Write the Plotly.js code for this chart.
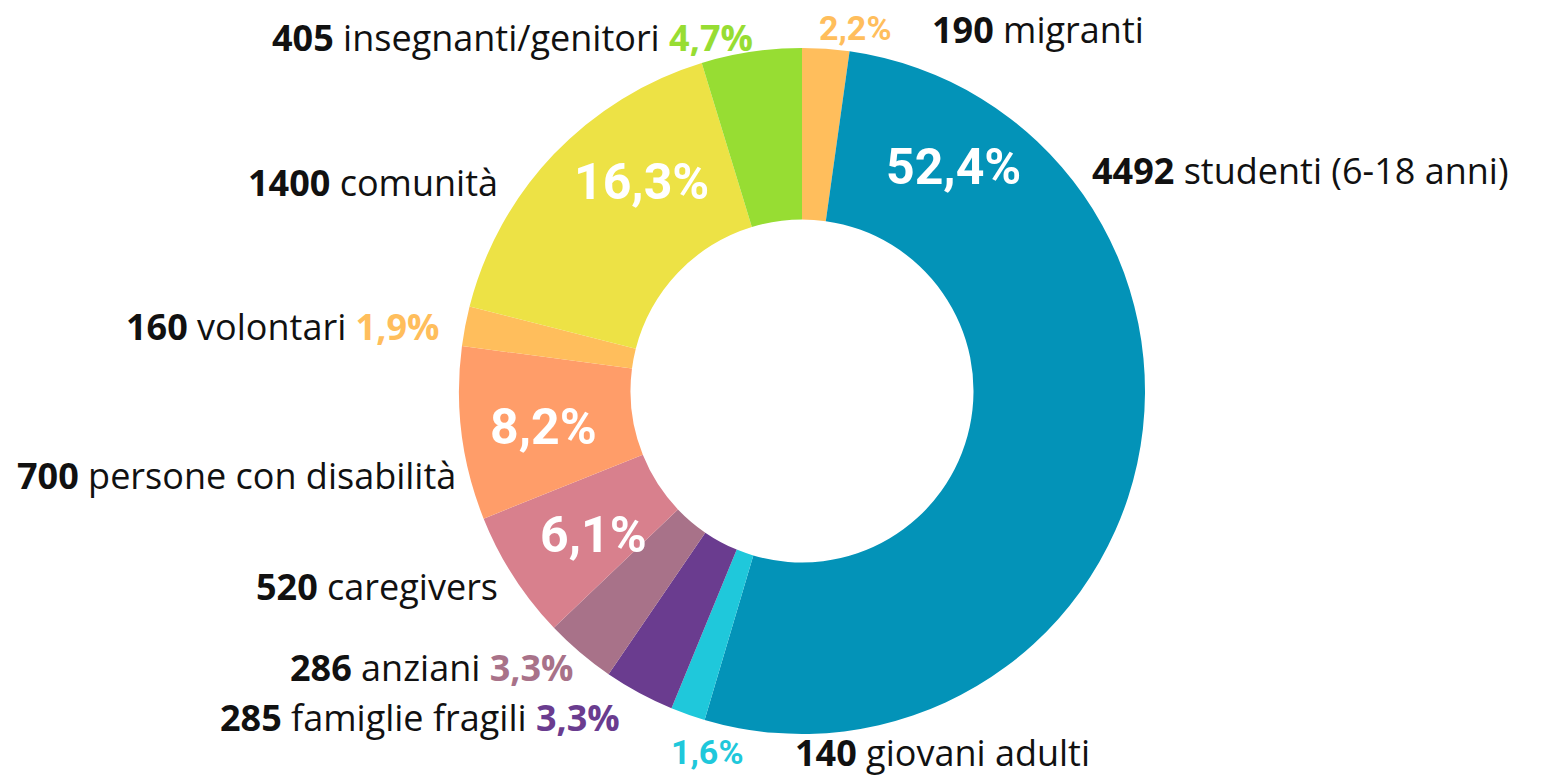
<!DOCTYPE html>
<html>
<head>
<meta charset="utf-8">
<script src="https://cdn.plot.ly/plotly-3.0.1.min.js"></script>
<style>html,body{margin:0;padding:0;background:#fff;}#chart{width:1551px;height:776px;}</style>
</head>
<body>
<div id="chart"></div>
<script>
// Data (clockwise from 12 o'clock)
const categories = ["migranti", "studenti (6-18 anni)", "giovani adulti", "famiglie fragili", "anziani", "caregivers", "persone con disabilità", "volontari", "comunità", "insegnanti/genitori"];
const values = [190, 4492, 140, 285, 286, 520, 700, 160, 1400, 405];
const colors = ["#FFBE5C", "#0393B8", "#1FC8DB", "#6A3C8F", "#A87289", "#D8808D", "#FF9D69", "#FFBE5C", "#EDE245", "#97DD33"];

const W = 1551, H = 776;
const total = values.reduce((a, b) => a + b, 0);
const pct = values.map(v => (v / total * 100).toFixed(1).replace('.', ',') + '%');

const FONT = '"Open Sans", Roboto, sans-serif';
const FONT_PCT = 'Roboto, "Open Sans", sans-serif';
const px = x => x / W;
const py = y => 1 - y / H;

const labelSpecs = [
  [9, 755, 37, 'right', 'full'],
  [0, 855, 28, 'center', 'pctOut'],
  [0, 930, 30, 'left', 'name'],
  [1, 1090, 170, 'left', 'name'],
  [1, 954, 167, 'center', 'pctIn'],
  [8, 500, 182, 'right', 'name'],
  [8, 641, 182, 'center', 'pctIn'],
  [7, 441, 326, 'right', 'full'],
  [6, 458, 475, 'right', 'name'],
  [6, 543, 427, 'center', 'pctIn'],
  [5, 500, 586, 'right', 'name'],
  [5, 593, 535, 'center', 'pctIn'],
  [4, 576, 667, 'right', 'full'],
  [3, 622, 717, 'right', 'full'],
  [2, 707, 752, 'center', 'pctOut'],
  [2, 793, 752, 'left', 'name']
];

const annotations = labelSpecs.map(([i, x, y, anchor, style]) => {
  let text, size = 36, color = '#111', fam = FONT;
  const nameTxt = '<b>' + values[i] + '</b> ' + categories[i];
  if (style === 'full') text = nameTxt + ' <b><span style="color:' + colors[i] + '">' + pct[i] + '</span></b>';
  else if (style === 'name') text = nameTxt;
  else if (style === 'pctOut') { text = '<b>' + pct[i] + '</b>'; color = colors[i]; fam = FONT_PCT; size = 34; }
  else { text = '<b>' + pct[i] + '</b>'; color = '#ffffff'; size = 50; fam = FONT_PCT; }
  return {
    xref: 'paper', yref: 'paper', x: px(x), y: py(y),
    xanchor: anchor, yanchor: 'middle', showarrow: false,
    text: text, font: {family: fam, size: size, color: color}
  };
});

const cx = 802, cy = 391, R = 343;
const trace = {
  type: 'pie',
  values: values,
  labels: categories,
  marker: {colors: colors, line: {width: 0}},
  hole: 0.5,
  sort: false,
  direction: 'clockwise',
  rotation: 0,
  textinfo: 'none',
  hoverinfo: 'label+value+percent',
  showlegend: false,
  domain: {x: [(cx - R) / W, (cx + R) / W], y: [(H - cy - R) / H, (H - cy + R) / H]}
};

Plotly.newPlot('chart', [trace], {
  width: W, height: H,
  margin: {l: 0, r: 0, t: 0, b: 0},
  paper_bgcolor: '#ffffff',
  showlegend: false,
  font: {family: FONT},
  annotations: annotations
}, {displayModeBar: false, staticPlot: true});
</script>
</body>
</html>
